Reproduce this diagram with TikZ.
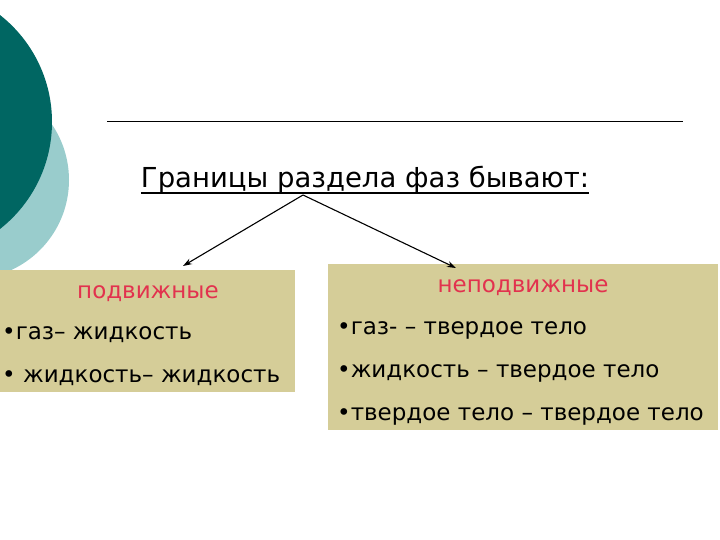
\documentclass[tikz,border=0pt]{standalone}
\usepackage{fontspec}
\setmainfont{DejaVu Sans}
\definecolor{darkteal}{RGB}{0,102,98}
\definecolor{lightteal}{RGB}{153,204,204}
\definecolor{sand}{RGB}{213,205,152}
\definecolor{headred}{RGB}{226,50,78}
\tikzset{
  item/.style={anchor=base west,inner sep=0pt,font=\fontsize{23}{27}\selectfont},
  head/.style={anchor=base,inner sep=0pt,text=headred,font=\fontsize{23}{27}\selectfont},
  branch/.style={-{Stealth[length=9pt,width=6pt]},line width=1.1pt}
}
\usetikzlibrary{arrows.meta}
\begin{document}
\begin{tikzpicture}[x=1pt,y=-1pt]
    \useasboundingbox (0,0) rectangle (720,540);
    %Circles
    \fill[lightteal] (-30,180) circle (99);
    \fill[darkteal] (-84,122) circle (136);
    %Rule
    \draw[line width=.8pt] (107,121) -- (683,121);
    %Boxes
    \fill[sand] (0,270) rectangle (295,392);
    \fill[sand] (328,264) rectangle (718,430);
    %Title
    \node[anchor=base,inner sep=0pt,font=\fontsize{27.5}{32}\selectfont] (title) at (365,188) {Границы раздела фаз бывают:};
    \draw[line width=1.6pt] ([yshift=-5pt]title.base west) -- ([yshift=-5pt]title.base east);
    \coordinate (fork) at (303,195);
    \coordinate (leftend) at (183,266);
    \coordinate (rightend) at (456,268);
    %Left
    \node[head] (mobile) at (148,298) {подвижные};
    \node[item] (lg) at (2,339) {•газ– жидкость};
    \node[item] (ll) at (2,382) {• жидкость– жидкость};
    %Right
    \node[head] (fixed) at (523,292) {неподвижные};
    \node[item] (rg) at (337,334) {•газ- – твердое тело};
    \node[item] (rl) at (337,377) {•жидкость – твердое тело};
    \node[item] (rs) at (337,420) {•твердое тело – твердое тело};
    %Arrows
    \draw[branch] (fork) -- (leftend);
    \draw[branch] (fork) -- (rightend);
\end{tikzpicture}
\end{document}
